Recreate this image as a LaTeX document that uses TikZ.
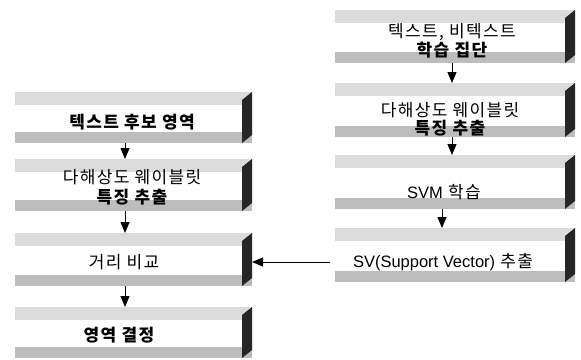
\documentclass[tikz,border=0pt]{standalone}
\usepackage{fontspec}
\setmainfont{Noto Sans CJK KR}[LetterSpace=8]
\newfontfamily\latinf{Liberation Sans}
\usetikzlibrary{arrows.meta}
\tikzset{
  x=1pt, y=-1pt,
  flowbox/.style={rectangle, inner sep=0pt, outer sep=0pt,
    path picture={
      \fill[black!14] (path picture bounding box.north west) rectangle ([yshift=-13pt]path picture bounding box.north east);
      \fill[black!26] ([yshift=11pt]path picture bounding box.south west) rectangle (path picture bounding box.south east);
      \fill[black!85] ([xshift=-10pt,yshift=-8pt]path picture bounding box.north east) -- (path picture bounding box.north east)
         -- ([yshift=8pt]path picture bounding box.south east) -- ([xshift=-10pt]path picture bounding box.south east) -- cycle;
    }},
  lbox/.style={flowbox, minimum width=237pt},
  rbox/.style={flowbox, minimum width=240pt},
  txt/.style={inner sep=0pt, font=\fontsize{17}{19}\selectfont},
  btxt/.style={txt, font=\fontsize{17}{19}\selectfont\bfseries},
  arr/.style={-{Triangle[width=9pt,length=11pt]}, line width=1pt, black},
}
\begin{document}
\begin{tikzpicture}
\useasboundingbox (0,0) rectangle (581,359);
% left column
\node[lbox, minimum height=51pt] (L1) at (133.5,117.5) {};
\node[lbox, minimum height=52pt] (L2) at (133.5,185) {};
\node[lbox, minimum height=53pt] (L3) at (133.5,259.5) {};
\node[lbox, minimum height=51pt] (L4) at (133.5,332.5) {};
\node[btxt] (tL1) at (132,122) {텍스트 후보 영역};
\node[txt] (tL2a) at (132,177) {다해상도 웨이블릿};
\node[btxt] (tL2b) at (132,197) {특징 추출};
\node[txt] (tL3) at (124,262) {거리 비교};
\node[btxt] (tL4) at (119,335) {영역 결정};
% right column
\node[rbox, minimum height=53pt] (R1) at (455,36.5) {};
\node[rbox, minimum height=54pt] (R2) at (455,110) {};
\node[rbox, minimum height=54pt] (R3) at (455,182) {};
\node[rbox, minimum height=54pt] (R4) at (455,255) {};
\node[txt] (tR1a) at (452,32) {텍스트, 비텍스트};
\node[btxt] (tR1b) at (452,50) {학습 집단};
\node[txt] (tR2a) at (450,110) {다해상도 웨이블릿};
\node[btxt] (tR2b) at (450,128) {특징 추출};
\node[txt] (tR3) at (444,192) {{\latinf\fontsize{16.5}{18}\selectfont SVM} 학습};
\node[txt] (tR4) at (443,262) {{\latinf\fontsize{16.5}{18}\selectfont SV(Support Vector)} 추출};
% connectors
\draw[arr] ([xshift=-8.5pt]L1.south) -- ([xshift=-8.5pt]L2.north);
\draw[arr] ([xshift=-8.5pt]L2.south) -- ([xshift=-8.5pt]L3.north);
\draw[arr] ([xshift=-8.5pt]L3.south) -- ([xshift=-8.5pt]L4.north);
\draw[arr] ([xshift=-3pt]R1.south) -- ([xshift=-3pt]R2.north);
\draw[arr] ([xshift=-3pt]R2.south) -- ([xshift=-3pt]R3.north);
\draw[arr] ([xshift=-13pt]R3.south) -- ([xshift=-13pt]R4.north);
\draw[arr] ([xshift=-5pt,yshift=-7pt]R4.west) -- ([yshift=-7pt]R4.west -| L3.east);
\end{tikzpicture}
\end{document}
